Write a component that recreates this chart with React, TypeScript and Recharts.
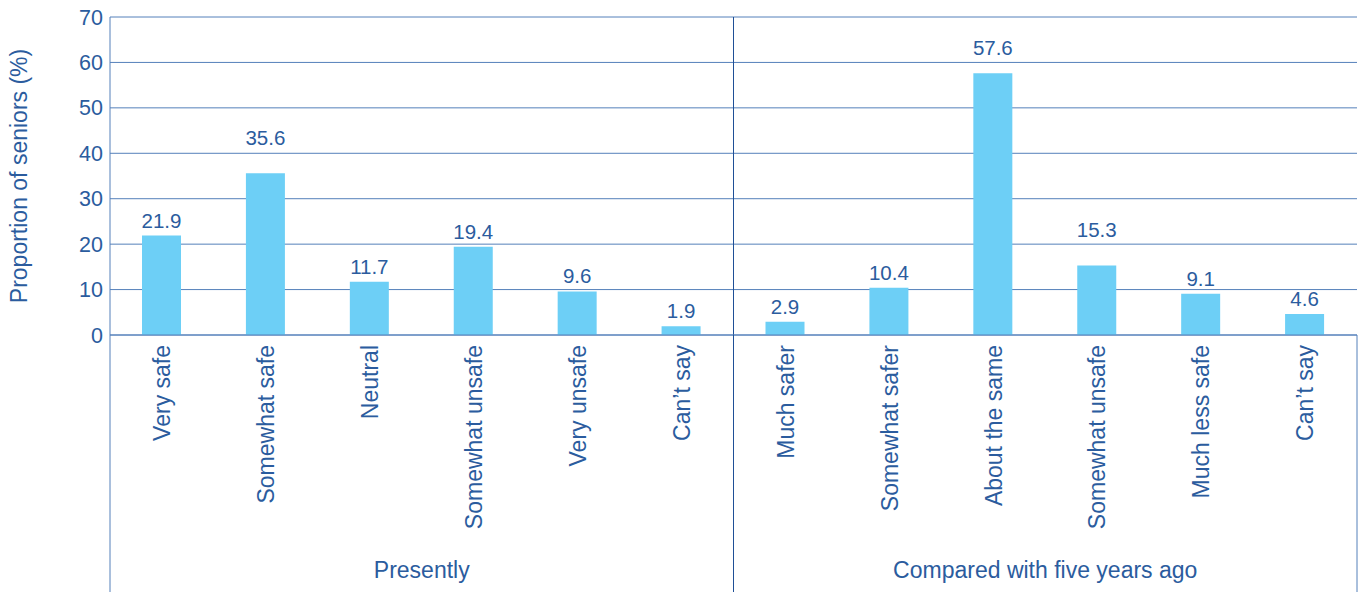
import React from "react"
import { BarChart, Bar, XAxis, YAxis, CartesianGrid, ReferenceLine, LabelList } from "recharts"

const groups = ["Presently", "Compared with five years ago"]
const presentlyLabels = ["Very safe", "Somewhat safe", "Neutral", "Somewhat unsafe", "Very unsafe", "Can\u2019t say"]
const presentlyValues = [21.9, 35.6, 11.7, 19.4, 9.6, 1.9]
const comparedLabels = ["Much safer", "Somewhat safer", "About the same", "Somewhat unsafe", "Much less safe", "Can\u2019t say"]
const comparedValues = [2.9, 10.4, 57.6, 15.3, 9.1, 4.6]
const yTicks = [0, 10, 20, 30, 40, 50, 60, 70]

const data = [
  ...presentlyLabels.map((label, i) => ({ id: `p${i}`, label, group: groups[0], value: presentlyValues[i] })),
  ...comparedLabels.map((label, i) => ({ id: `c${i}`, label, group: groups[1], value: comparedValues[i] })),
]

const TEXT = "#2b5c9e"
const GRID = "#5580ba"
const DARK = "#1f4f96"
const FONT = "'Liberation Sans', Arial, sans-serif"

// a few value labels sit higher above their bars in the original
const labelRaise: Record<string, number> = { p1: 20, c2: 10, c3: 20 }

function CategoryTick(props: any) {
  const { x, y, index, width, visibleTicksCount, payload } = props
  const row = data.find((d) => d.id === payload.value)
  const band = width / visibleTicksCount
  const groupSize = presentlyLabels.length
  const startsGroup = index % groupSize === 0
  const isLast = index === visibleTicksCount - 1
  return (
    <g>
      <text
        transform={`translate(${x},${y + 10}) rotate(-90)`}
        textAnchor="end"
        dy="0.36em"
        fill={TEXT}
        fontSize={23}
        fontFamily={FONT}
      >
        {row?.label}
      </text>
      {startsGroup && (
        <>
          <line x1={x - band / 2} x2={x - band / 2} y1={y} y2={y + 300} stroke={index === 0 ? GRID : DARK} strokeWidth={1} />
          <text x={x + band * (groupSize / 2 - 0.5)} y={y + 235} dy="0.36em" textAnchor="middle" fill={TEXT} fontSize={23} fontFamily={FONT}>
            {row?.group}
          </text>
        </>
      )}
      {isLast && <line x1={x + band / 2} x2={x + band / 2} y1={y} y2={y + 300} stroke={GRID} strokeWidth={1} />}
    </g>
  )
}

function ValueLabel(props: any) {
  const { x, y, width, value, index } = props
  const id = data[index]?.id
  const raise = labelRaise[id] ?? 0
  return (
    <text x={x + width / 2} y={y - 8 - raise} textAnchor="middle" fill={TEXT} fontSize={20.5} fontFamily={FONT}>
      {value}
    </text>
  )
}

export default function App() {
  return (
    <div style={{ position: "absolute", left: 0, top: 0, background: "#fff" }}>
      <BarChart width={1363} height={592} data={data} margin={{ top: 17, right: 6, bottom: 0, left: 0 }}>
        <CartesianGrid vertical={false} stroke={GRID} strokeWidth={1} />
        <YAxis
          domain={[0, 70]}
          ticks={yTicks}
          width={110}
          tickSize={0}
          tickMargin={7}
          axisLine={{ stroke: GRID }}
          tick={{ fill: TEXT, fontSize: 21.5, fontFamily: FONT }}
          label={{
            value: "Proportion of seniors (%)",
            angle: -90,
            position: "insideLeft",
            dx: 14,
            dy: 0,
            style: { textAnchor: "middle", fill: TEXT, fontSize: 23, fontFamily: FONT },
          }}
        />
        <XAxis
          dataKey="id"
          height={257}
          tickSize={0}
          tickMargin={0}
          axisLine={{ stroke: GRID }}
          interval={0}
          tick={<CategoryTick />}
        />
        <ReferenceLine x="c0" position="start" stroke={DARK} strokeWidth={1} />
        <ReferenceLine x="c5" position="end" stroke={GRID} strokeWidth={1} />
        <Bar dataKey="value" fill="#6dcff6" barSize={39} isAnimationActive={false}>
          <LabelList dataKey="value" content={<ValueLabel />} />
        </Bar>
      </BarChart>
    </div>
  )
}
